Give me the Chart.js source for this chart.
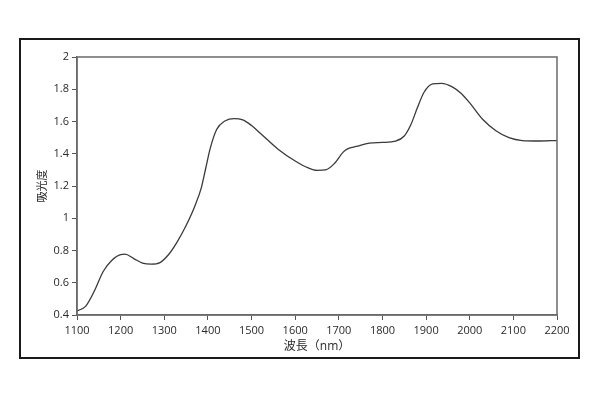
<!DOCTYPE html>
<html>
<head>
<meta charset="utf-8">
<script src="https://cdn.jsdelivr.net/npm/chart.js@4"></script>
<style>
html,body{margin:0;padding:0;background:#fff;}
canvas{display:block;}
</style>
</head>
<body>
<canvas id="c" width="600" height="395"></canvas>
<script>
const wavelengths = [1100,1120,1140,1160,1180,1200,1210,1230,1250,1270,1290,1310,1330,1350,1370,1385,1395,1405,1420,1440,1460,1480,1500,1520,1560,1600,1630,1650,1670,1690,1710,1720,1740,1770,1800,1830,1850,1865,1880,1895,1915,1935,1960,1980,2000,2030,2060,2090,2120,2160,2200];
const absorbance = [0.425,0.455,0.55,0.67,0.74,0.775,0.777,0.75,0.722,0.715,0.725,0.775,0.855,0.955,1.075,1.19,1.31,1.43,1.55,1.605,1.618,1.61,1.575,1.527,1.43,1.355,1.312,1.297,1.3,1.34,1.41,1.43,1.445,1.466,1.47,1.478,1.51,1.58,1.685,1.78,1.833,1.837,1.815,1.775,1.715,1.612,1.543,1.5,1.482,1.479,1.482];
const xTicks = [1100,1200,1300,1400,1500,1600,1700,1800,1900,2000,2100,2200];
const yTickLabels = ['0.4','0.6','0.8','1','1.2','1.4','1.6','1.8','2'];
const xTitle = '波長（nm）';
const yTitle = '吸光度';

const FONT = '"Open Sans","Noto Sans CJK JP",sans-serif';

const framePlugin = {
  id: 'frame',
  beforeDraw(chart) {
    const ctx = chart.ctx;
    ctx.save();
    ctx.fillStyle = '#fff';
    ctx.fillRect(0, 0, chart.width, chart.height);
    ctx.strokeStyle = '#1a1a1a';
    ctx.lineWidth = 2;
    ctx.strokeRect(20, 39, 559, 319);
    ctx.restore();
  },
  afterDraw(chart) {
    const a = chart.chartArea;
    const ctx = chart.ctx;
    ctx.save();
    ctx.strokeStyle = '#6a6a6a';
    ctx.lineWidth = 1.5;
    ctx.strokeRect(a.left, a.top, a.right - a.left, a.bottom - a.top);
    ctx.restore();
  }
};

new Chart(document.getElementById('c'), {
  type: 'line',
  data: {
    datasets: [{
      data: wavelengths.map((w, i) => ({x: w, y: absorbance[i]})),
      borderColor: '#3a3a3a',
      borderWidth: 1.3,
      pointRadius: 0,
      cubicInterpolationMode: 'monotone',
      fill: false
    }]
  },
  options: {
    responsive: false,
    animation: false,
    layout: {padding: {left: 0, top: 57, right: 43, bottom: 41}},
    plugins: {legend: {display: false}, tooltip: {enabled: false}},
    scales: {
      x: {
        type: 'linear',
        min: 1100, max: 2200,
        afterBuildTicks(scale) { scale.ticks = xTicks.map(v => ({value: v})); },
        afterFit(scale) { scale.height = 39; },
        ticks: {
          color: '#2a2a2a',
          font: {family: FONT, size: 11},
          padding: 4,
          maxRotation: 0,
          autoSkip: false,
          callback: v => String(v)
        },
        grid: {display: true, drawOnChartArea: false, drawTicks: true, tickLength: 5, color: '#555', lineWidth: 1},
        border: {display: true, color: '#6a6a6a', width: 1.5},
        title: {display: true, text: xTitle, color: '#2a2a2a', font: {family: FONT, size: 12}, padding: {top: 0, bottom: 0}}
      },
      y: {
        type: 'linear',
        min: 0.4, max: 2,
        afterBuildTicks(scale) { scale.ticks = yTickLabels.map(t => ({value: parseFloat(t)})); },
        afterFit(scale) { scale.width = 77; },
        ticks: {
          color: '#2a2a2a',
          font: {family: FONT, size: 11},
          padding: 3,
          autoSkip: false,
          callback: (v, i) => yTickLabels[i]
        },
        grid: {display: true, drawOnChartArea: false, drawTicks: true, tickLength: 5, color: '#555', lineWidth: 1},
        border: {display: true, color: '#6a6a6a', width: 1.5},
        title: {display: true, text: yTitle, color: '#2a2a2a', font: {family: FONT, size: 11}, padding: {top: 36, bottom: 0}}
      }
    }
  },
  plugins: [framePlugin]
});
</script>
</body>
</html>
